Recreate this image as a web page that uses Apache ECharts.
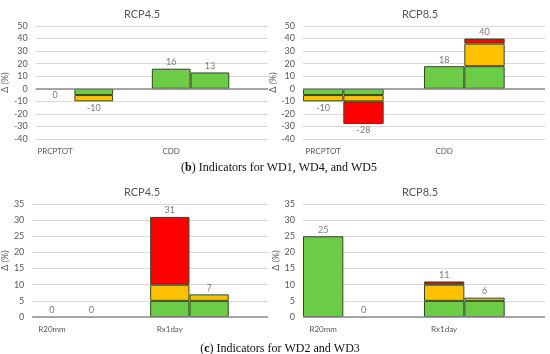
<!DOCTYPE html>
<html>
<head>
<meta charset="utf-8">
<script src="https://cdn.jsdelivr.net/npm/echarts@6/dist/echarts.min.js"></script>
<style>html,body{margin:0;padding:0;background:#fff}#c{width:550px;height:354px}</style>
</head>
<body>
<div id="c"></div>
<script>
// ---- data ----
const catsTop = ['PRCPTOT', '', '', 'CDD', '', ''];
const catsBottom = ['R20mm', '', '', 'Rx1day', '', ''];
const panelTitles = ['RCP4.5', 'RCP8.5', 'RCP4.5', 'RCP8.5'];
const yTicksTop = [-40, 50, 10];
const yTicksBottom = [0, 35, 5];

// panel 1: top RCP4.5
const p1Green  = [null, -5, null, 16, 13, null];
const p1Yellow = [null, -5, null, null, null, null];
const p1Red    = [null, null, null, null, null, null];
const p1Total  = [0, -10, null, 16, 13, null];
// panel 2: top RCP8.5
const p2Green  = [-5, -5, null, 18, 18, null];
const p2Yellow = [-5, -5, null, null, 18, null];
const p2Red    = [null, -18, null, null, 4, null];
const p2Total  = [-10, -28, null, 18, 40, null];
// panel 3: bottom RCP4.5
const p3Green  = [null, null, null, 5, 5, null];
const p3Yellow = [null, null, null, 5, 2, null];
const p3Red    = [null, null, null, 21, null, null];
const p3Total  = [0, 0, null, 31, 7, null];
// panel 4: bottom RCP8.5
const p4Green  = [25, null, null, 5, 5, null];
const p4Yellow = [null, null, null, 5, 1, null];
const p4Red    = [null, null, null, 1, null, null];
const p4Total  = [25, 0, null, 11, 6, null];

const captionB = 'Indicators for WD1, WD4, and WD5';
const captionC = 'Indicators for WD2 and WD3';

// ---- chart ----
const GREEN = '#6dcc45', YELLOW = '#ffc000', RED = '#ff0000', BORDER = '#2f4a1c';
const TXT = '#595959';
const FONT = 'Lato';

const panels = [
  {cats: catsTop, ticks: yTicksTop, g: p1Green, y: p1Yellow, r: p1Red, t: p1Total, zeroBelow: true,
   grid: {left: 30, top: 26, width: 238, height: 113}, titleX: 137, titleY: 4},
  {cats: catsTop, ticks: yTicksTop, g: p2Green, y: p2Yellow, r: p2Red, t: p2Total, zeroBelow: true,
   grid: {left: 303, top: 26, width: 242, height: 113}, titleX: 415, titleY: 4},
  {cats: catsBottom, ticks: yTicksBottom, g: p3Green, y: p3Yellow, r: p3Red, t: p3Total, zeroBelow: false,
   grid: {left: 30, top: 204, width: 238, height: 113}, titleX: 137, titleY: 182},
  {cats: catsBottom, ticks: yTicksBottom, g: p4Green, y: p4Yellow, r: p4Red, t: p4Total, zeroBelow: false,
   grid: {left: 303, top: 204, width: 242, height: 113}, titleX: 415, titleY: 182}
];

const grids = [], xAxes = [], yAxes = [], series = [], titles = [];
panels.forEach((p, i) => {
  grids.push(Object.assign({containLabel: false}, p.grid));
  xAxes.push({
    type: 'category', gridIndex: i, data: p.cats,
    axisLine: {show: false}, axisTick: {show: false},
    axisLabel: {interval: 0, color: TXT, fontSize: 8, fontFamily: FONT, margin: 8}
  });
  yAxes.push({
    type: 'value', gridIndex: i, min: p.ticks[0], max: p.ticks[1], interval: p.ticks[2],
    name: 'Δ (%)', nameLocation: 'middle', nameGap: 21,
    nameTextStyle: {color: TXT, fontSize: 9, fontFamily: FONT},
    axisLine: {show: false}, axisTick: {show: false},
    axisLabel: {color: TXT, fontSize: 9, fontFamily: FONT, margin: 8},
    splitLine: {lineStyle: {color: '#d9d9d9', width: 1}}
  });
  const mk = (data, color, extra) => Object.assign({
    type: 'bar', xAxisIndex: i, yAxisIndex: i, stack: 's' + i, data: data,
    barWidth: '100%', barCategoryGap: 0,
    itemStyle: {color: color, borderColor: BORDER, borderWidth: 1},
    emphasis: {disabled: true}, animation: false
  }, extra || {});
  series.push(mk(p.g, GREEN, {
    markLine: {silent: true, symbol: 'none', label: {show: false},
      lineStyle: {color: '#8c8c8c', width: 1.6, type: 'solid'}, data: [{yAxis: 0}], animation: false}
  }));
  series.push(mk(p.y, YELLOW));
  series.push(mk(p.r, RED));
  series.push({
    type: 'scatter', xAxisIndex: i, yAxisIndex: i, symbolSize: 0, animation: false, silent: true,
    data: p.t.map(v => v === null ? null : {
      value: v,
      label: {position: (v < 0 || (v === 0 && p.zeroBelow)) ? 'bottom' : 'top'}
    }),
    label: {show: true, color: TXT, fontSize: 9, fontFamily: FONT, distance: 2,
      formatter: d => String(d.value)}
  });
  titles.push({text: panelTitles[i], left: p.titleX, top: p.titleY, textAlign: 'center',
    textStyle: {color: TXT, fontSize: 11, fontWeight: 'normal', fontFamily: FONT}});
});

const capStyle = {color: '#111', fontSize: 12, fontWeight: 'normal', fontFamily: 'Liberation Serif',
  rich: {b: {fontWeight: 'bold', fontSize: 12, fontFamily: 'Liberation Serif', color: '#111'}}};
titles.push({text: '({b|b}) ' + captionB, left: 274, top: 157, textAlign: 'center', textStyle: capStyle});
titles.push({text: '({b|c}) ' + captionC, left: 275, top: 338, textAlign: 'center', textStyle: capStyle});

const chart = echarts.init(document.getElementById('c'), null, {renderer: 'canvas'});
chart.setOption({
  backgroundColor: '#fff',
  animation: false,
  title: titles,
  grid: grids,
  xAxis: xAxes,
  yAxis: yAxes,
  series: series
});
</script>
</body>
</html>
